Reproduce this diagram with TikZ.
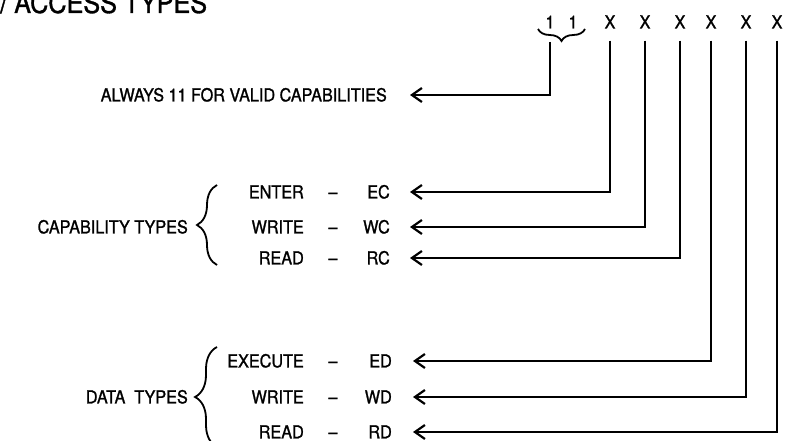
\documentclass[tikz,border=0pt]{standalone}
\usepackage{fontspec}
\setmainfont{TeX Gyre Heros}[FakeStretch=0.9, FakeBold=1.2]
\usetikzlibrary{arrows.meta,decorations.pathreplacing}

\begin{document}
\begin{tikzpicture}[x=1pt, y=-1pt, >={Straight Barb[length=10pt,width=14pt]},
  lbl/.style={inner sep=0pt, text height=12.8pt, text depth=0pt, font=\fontsize{18}{20}\selectfont},
  conn/.style={->, line width=2.2pt},
  grp/.style={line width=1.8pt, decorate, decoration={brace, amplitude=#1}}]
  % page frame, the top and bottom are cut off
  \useasboundingbox (0,0) rectangle (804,441);
  \clip (0,0) rectangle (804,441);

  % title
  \node[inner sep=0pt, anchor=base west, font=\fontsize{28}{30}\selectfont] (title) at (0,13) {/ ACCESS TYPES};

  % the two fixed bits and the six type bits
  \node[lbl] (bitA) at (550,22) {1};
  \node[lbl] (bitB) at (573,22) {1};
  \node[lbl] (xec) at (610,22) {X};
  \node[lbl] (xwc) at (645,22) {X};
  \node[lbl] (xrc) at (680,22) {X};
  \node[lbl] (xed) at (711,22) {X};
  \node[lbl] (xwd) at (746,22) {X};
  \node[lbl] (xrd) at (777,22) {X};
  \draw[grp=12pt] (585,29) -- (538,29);
  \coordinate (ones) at (550,42);

  % fixed bits
  \node[lbl, anchor=east] (always) at (387,95) {ALWAYS 11 FOR VALID CAPABILITIES};

  % capability types
  \node[lbl, anchor=east] (enter) at (304,192) {ENTER};
  \node[lbl] (dashEC) at (333,192) {–};
  \node[lbl, anchor=east] (ec) at (390,192) {EC};
  \node[lbl, anchor=east] (writeC) at (304,227) {WRITE};
  \node[lbl] (dashWC) at (333,227) {–};
  \node[lbl, anchor=east] (wc) at (390,227) {WC};
  \node[lbl, anchor=east] (readC) at (304,258) {READ};
  \node[lbl] (dashRC) at (333,258) {–};
  \node[lbl, anchor=east] (rc) at (390,258) {RC};
  \draw[grp=20pt] (217,265) -- (217,185);
  \node[lbl, anchor=east] (captypes) at (188,227) {CAPABILITY TYPES};

  % data types
  \node[lbl, anchor=east] (execute) at (304,361) {EXECUTE};
  \node[lbl] (dashED) at (333,361) {–};
  \node[lbl, anchor=east] (ed) at (392,361) {ED};
  \node[lbl, anchor=east] (writeD) at (304,397) {WRITE};
  \node[lbl] (dashWD) at (333,397) {–};
  \node[lbl, anchor=east] (wd) at (392,397) {WD};
  \node[lbl, anchor=east] (readD) at (304,432) {READ};
  \node[lbl] (dashRD) at (333,432) {–};
  \node[lbl, anchor=east] (rd) at (392,432) {RD};
  \draw[grp=22pt] (217,447) -- (217,347);
  \node[lbl, anchor=east] (datatypes) at (188,397) {DATA\ \ TYPES};

  % bit lines
  \draw[conn, shorten >=23pt] (ones) |- (always.east);
  \draw[conn, shorten <=12pt, shorten >=20pt] (xec.south) |- (ec.east);
  \draw[conn, shorten <=12pt, shorten >=20pt] (xwc.south) |- (wc.east);
  \draw[conn, shorten <=12pt, shorten >=20pt] (xrc.south) |- (rc.east);
  \draw[conn, shorten <=12pt, shorten >=21pt] (xed.south) |- (ed.east);
  \draw[conn, shorten <=12pt, shorten >=21pt] (xwd.south) |- (wd.east);
  \draw[conn, shorten <=12pt, shorten >=21pt] (xrd.south) |- (rd.east);
\end{tikzpicture}
\end{document}
